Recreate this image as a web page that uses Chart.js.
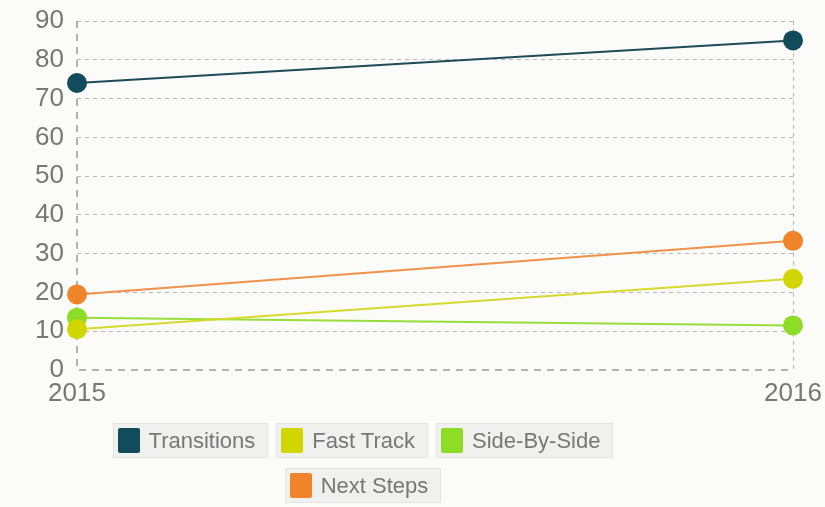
<!DOCTYPE html>
<html>
<head>
<meta charset="utf-8">
<script src="https://cdn.jsdelivr.net/npm/chart.js@4/dist/chart.umd.min.js"></script>
<style>
  html, body { margin: 0; padding: 0; background: #f4f5f1; }
  #wrap { position: relative; width: 825px; height: 507px; background: #fbfbfa; }
  #chart { position: absolute; left: 0; top: 0; }
  #legend {
    position: absolute; left: 0; top: 423px; width: 726px;
    display: flex; flex-wrap: wrap; justify-content: center; gap: 0 8px;
    font-family: "Liberation Sans", Arial, sans-serif; font-size: 22px; color: #777777;
  }
  .item {
    display: flex; align-items: center; height: 33px;
    background: #f0f0ef; border: 1px solid #e3e3e2; padding: 0 12px 0 4px;
  }
  .swatch { width: 22px; height: 25px; margin-right: 9px; border-radius: 2px; }
  .break { flex-basis: 100%; height: 10px; }
</style>
</head>
<body>
<div id="wrap">
  <canvas id="chart" width="825" height="507"></canvas>
  <div id="legend"></div>
</div>
<script>
// values
const years = ['2015', '2016'];
const transitions = [74, 85];
const fastTrack = [10.5, 23.5];
const sideBySide = [13.5, 11.5];
const nextSteps = [19.5, 33.3];

const seriesNames = ['Transitions', 'Fast Track', 'Side-By-Side', 'Next Steps'];
const seriesData = [transitions, fastTrack, sideBySide, nextSteps];
const lineColors = ['#1d4b57', '#d6da2c', '#98de3a', '#f0914a'];
const dotColors = ['#114b5c', '#d2d600', '#8ddc26', '#f0842a'];

const datasets = seriesNames.map((name, i) => ({
    label: name,
    data: seriesData[i],
    order: i,
    borderColor: lineColors[i],
    backgroundColor: dotColors[i],
    pointBackgroundColor: dotColors[i],
    pointBorderWidth: 0,
    pointRadius: 10,
    borderWidth: 2,
    tension: 0
}));

const font = { family: '"Liberation Sans", Arial, sans-serif', size: 26 };
const gridColor = c => c.index === 0 ? 'rgba(0,0,0,0)' : '#b8b8b8';

// axis lines are dashed longer and darker than the grid
const dashedAxes = {
    id: 'dashedAxes',
    beforeDatasetsDraw(chart) {
        const { ctx, chartArea: a } = chart;
        ctx.save();
        ctx.strokeStyle = '#9a9a9a';
        ctx.lineWidth = 1.5;
        ctx.setLineDash([7, 6]);
        ctx.beginPath();
        ctx.moveTo(a.left, a.top);
        ctx.lineTo(a.left, a.bottom);
        ctx.lineTo(a.right, a.bottom);
        ctx.stroke();
        ctx.restore();
    }
};

new Chart(document.getElementById('chart'), {
    type: 'line',
    data: { labels: years, datasets: datasets },
    options: {
        responsive: false,
        animation: false,
        layout: { padding: { left: 0, right: 32, top: 21, bottom: 97 } },
        plugins: { legend: { display: false }, tooltip: { enabled: false } },
        scales: {
            x: {
                offset: false,
                grid: { color: gridColor, lineWidth: 1, drawTicks: false },
                border: { display: false, dash: [4, 4] },
                ticks: { color: '#777777', font: font, padding: 8, maxRotation: 0 },
                afterFit: s => { s.height = 40; s.paddingLeft = 0; s.paddingRight = 0; }
            },
            y: {
                min: 0,
                max: 90,
                grid: { color: gridColor, lineWidth: 1, drawTicks: false },
                border: { display: false, dash: [4, 4] },
                ticks: { stepSize: 10, color: '#777777', font: font, padding: 13 },
                afterFit: s => { s.width = 77; s.paddingTop = 0; s.paddingBottom = 0; }
            }
        }
    },
    plugins: [dashedAxes]
});

// legend as html, built from the series arrays
const legend = document.getElementById('legend');
seriesNames.forEach((name, i) => {
    if (i === 3) {
        const br = document.createElement('div');
        br.className = 'break';
        legend.appendChild(br);
    }
    const item = document.createElement('div');
    item.className = 'item';
    const sw = document.createElement('span');
    sw.className = 'swatch';
    sw.style.background = dotColors[i];
    item.appendChild(sw);
    item.appendChild(document.createTextNode(name));
    legend.appendChild(item);
});
</script>
</body>
</html>
